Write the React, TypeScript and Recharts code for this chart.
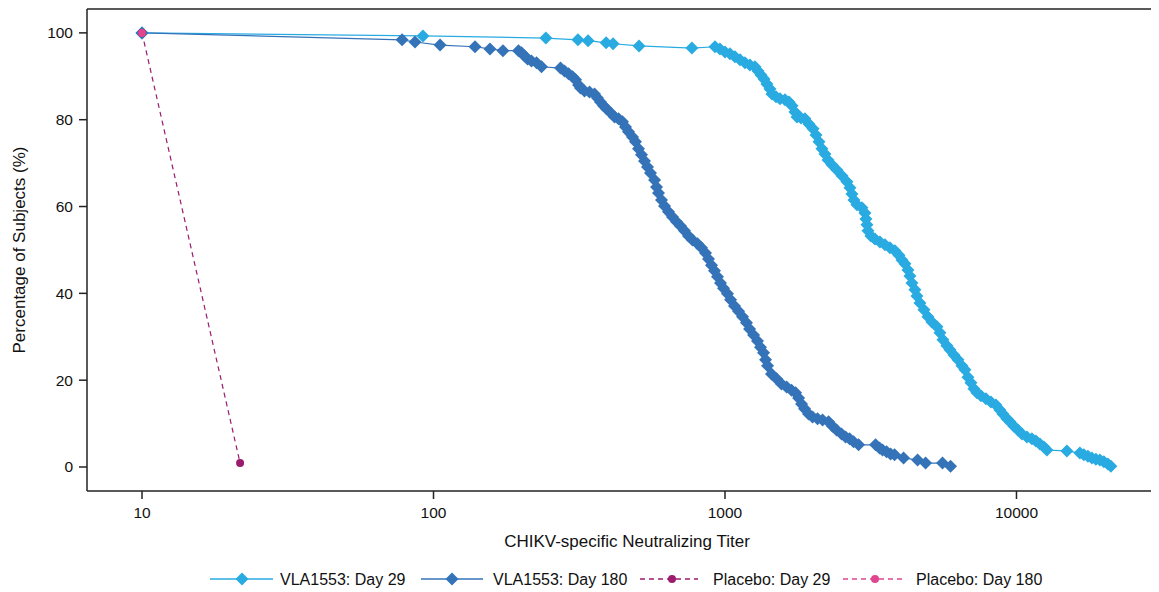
import React from 'react';
import { LineChart, Line, XAxis, YAxis, ReferenceLine } from 'recharts';

// VLA1553 Day 29: titer values and percentage of subjects
const day29Titer = [10, 92, 243, 313, 339, 391, 413, 507, 770,
  924, 961, 1000, 1040, 1082, 1126, 1171, 1218, 1267, 1298, 1329, 1361, 1393, 1427, 1449, 1496, 1544, 1606, 1658, 1698, 1738, 1766, 1823, 1881, 1941, 2004, 2052, 2101, 2151, 2203, 2256, 2328, 2422, 2519, 2621, 2684, 2726, 2770, 2836, 2950, 3021, 3045, 3069, 3094, 3168, 3270, 3401, 3538, 3681, 3829, 3952, 4047, 4144, 4243, 4311, 4379, 4484, 4556, 4665, 4814, 4969, 5129, 5335, 5463, 5594, 5773, 5912, 6102, 6297, 6499, 6655, 6815, 6978, 7146, 7317, 7552, 7856, 8172, 8502, 8774, 8985, 9273, 9495, 9800, 10115, 10439, 10860, 11297, 11660, 12034, 12421, 12718,
  14894, 16505, 17035, 17581, 18145, 18728, 19329, 19950, 20590, 21084];
const day29Pct = [100, 99.3, 98.8, 98.4, 98.2, 97.7, 97.5, 97.0, 96.5,
  96.8, 96.3, 95.6, 95.2, 94.5, 93.8, 93.1, 92.6, 92.2, 91.2, 90.3, 89.4, 88.2, 87.1, 85.9, 85.3, 84.8, 84.6, 84.1, 83.2, 81.8, 80.6, 80.4, 80.2, 79.0, 77.9, 76.5, 74.9, 73.3, 72.1, 70.7, 69.6, 68.4, 67.1, 65.7, 64.3, 62.9, 61.5, 60.4, 59.7, 58.5, 57.1, 55.8, 54.4, 53.2, 52.5, 51.8, 51.2, 50.5, 49.8, 48.8, 47.7, 46.8, 45.4, 44.0, 42.4, 40.8, 39.4, 37.8, 36.2, 34.6, 33.4, 32.3, 30.9, 29.3, 27.9, 27.0, 25.8, 24.7, 23.3, 22.4, 20.7, 19.4, 18.0, 17.1, 16.4, 15.7, 15.0, 14.3, 13.1, 12.2, 11.1, 10.4, 9.4, 8.5, 7.6, 6.9, 6.5, 6.0, 5.3, 4.6, 3.9,
  3.7, 3.2, 2.8, 2.5, 2.1, 1.8, 1.6, 1.2, 0.7, 0.2];

// VLA1553 Day 180
const day180Titer = [10, 78, 86.4, 105.3, 138.8, 156.2, 173.1,
  195.7, 200.4, 205.3, 210.2, 216.9, 225.7, 234.7,
  272.7, 281.5, 290.6, 299.9, 307.1, 314.5, 319.4, 329.7, 343.0, 356.8, 365.3, 374.1, 383.1, 392.3, 404.9, 417.9, 431.2, 445.1, 455.8, 466.7, 481.6, 493.2, 505.1, 517.2, 529.6, 542.3, 555.3, 573.2, 582.3, 591.5, 605.7, 620.2, 640.1, 660.7, 681.9, 703.8, 726.3, 749.7, 773.7, 804.9, 830.7, 857.4, 877.9, 899.0, 920.6, 942.7, 965.2, 988.3, 1020, 1045, 1078, 1113, 1149, 1185, 1214, 1253, 1293, 1324, 1356, 1378, 1400, 1444, 1503, 1563, 1627, 1692, 1746, 1789, 1831, 1875, 1935, 1997, 2078, 2162, 2266, 2339, 2414, 2512, 2592, 2675, 2761, 2872,
  3285, 3390, 3471, 3583, 3698, 3817, 4098, 4577, 4876, 5576, 5940];
const day180Pct = [100, 98.4, 97.9, 97.2, 96.8, 96.3, 95.9,
  95.9, 95.4, 94.7, 94.0, 93.5, 93.1, 92.2,
  91.9, 91.2, 90.6, 89.9, 89.2, 88.0, 87.3, 86.6, 86.4, 85.9, 85.0, 84.1, 83.2, 82.5, 81.6, 80.6, 80.2, 79.5, 78.3, 77.2, 76.0, 74.9, 73.3, 71.9, 70.5, 69.1, 67.7, 66.1, 64.5, 63.1, 61.5, 60.1, 58.8, 57.6, 56.5, 55.5, 54.4, 53.2, 52.3, 51.4, 50.5, 49.3, 47.9, 46.5, 45.2, 43.8, 42.4, 41.2, 39.9, 38.5, 37.1, 35.9, 34.6, 33.2, 31.8, 30.4, 29.0, 27.6, 26.3, 24.7, 23.3, 21.4, 20.3, 19.1, 18.4, 17.7, 17.1, 15.9, 14.5, 13.4, 12.2, 11.5, 11.1, 10.8, 10.4, 9.4, 8.5, 7.6, 6.9, 6.5, 5.8, 5.1,
  5.1, 4.4, 3.9, 3.5, 3.0, 2.8, 2.1, 1.6, 0.9, 0.9, 0.2];

// Placebo
const placebo29Titer = [10, 21.7];
const placebo29Pct = [100, 0.9];
const placebo180Titer = [10];
const placebo180Pct = [100];

const xTicks = [10, 100, 1000, 10000];
const yTicks = [0, 20, 40, 60, 80, 100];

const seriesNames = ['VLA1553: Day 29', 'VLA1553: Day 180', 'Placebo: Day 29', 'Placebo: Day 180'];
const colors = ['#29ABE2', '#3573B9', '#9B1B6E', '#E0458F'];

const zip = (xs: number[], ys: number[]) => xs.map((x, i) => ({ x, y: ys[i] }));
const d29 = zip(day29Titer, day29Pct);
const d180 = zip(day180Titer, day180Pct);
const p29 = zip(placebo29Titer, placebo29Pct);
const p180 = zip(placebo180Titer, placebo180Pct);

const FONT = '"Liberation Sans", Arial, Helvetica, sans-serif';
const AXIS = '#222';

const makeDiamond = (color: string) => (props: any) => {
  const { cx, cy, index } = props;
  if (cx == null || cy == null) return <g key={`e-${index}`} />;
  const h = 6.5;
  return (
    <path
      key={`dm-${color}-${index}`}
      d={`M${cx},${cy - h}L${cx + h},${cy}L${cx},${cy + h}L${cx - h},${cy}Z`}
      fill={color}
      stroke="none"
    />
  );
};

const makeCircle = (color: string) => (props: any) => {
  const { cx, cy, index } = props;
  if (cx == null || cy == null) return <g key={`e-${index}`} />;
  return <circle key={`c-${color}-${index}`} cx={cx} cy={cy} r={4} fill={color} stroke="none" />;
};

const legendItems = [
  { x0: 202, x1: 265, mx: 234, tx: 272, kind: 'diamond', dash: false },
  { x0: 413, x1: 475, mx: 444, tx: 485, kind: 'diamond', dash: false },
  { x0: 632, x1: 690, mx: 664, tx: 705, kind: 'circle', dash: true },
  { x0: 835, x1: 894, mx: 867, tx: 908, kind: 'circle', dash: true },
];

export default function App() {
  return (
    <div style={{ position: 'relative', width: 1151, height: 584, fontFamily: FONT }}>
      <LineChart width={1151} height={584} margin={{ top: 1, right: 0, bottom: 0, left: 0 }}>
        <XAxis
          dataKey="x"
          type="number"
          scale="log"
          domain={[6.475, 30830]}
          ticks={xTicks}
          allowDataOverflow
          height={101}
          tickSize={8}
          tickMargin={8}
          stroke={AXIS}
          strokeWidth={1.5}
          tick={{ fontSize: 15.5, fill: '#111', fontFamily: FONT }}
          tickLine={{ stroke: AXIS, strokeWidth: 1.5 }}
        />
        <YAxis
          dataKey="y"
          type="number"
          domain={[-5.53, 105.5]}
          ticks={yTicks}
          allowDataOverflow
          width={79}
          tickSize={8}
          tickMargin={6}
          stroke={AXIS}
          strokeWidth={1.5}
          tick={{ fontSize: 15.5, fill: '#111', fontFamily: FONT }}
          tickLine={{ stroke: AXIS, strokeWidth: 1.5 }}
        />
        <ReferenceLine y={105.5} stroke={AXIS} strokeWidth={1.5} ifOverflow="extendDomain" />
        <Line data={d29} dataKey="y" name={seriesNames[0]} stroke={colors[0]} strokeWidth={1.2} dot={makeDiamond(colors[0])} isAnimationActive={false} />
        <Line data={d180} dataKey="y" name={seriesNames[1]} stroke={colors[1]} strokeWidth={1.2} dot={makeDiamond(colors[1])} isAnimationActive={false} />
        <Line data={p29} dataKey="y" name={seriesNames[2]} stroke={colors[2]} strokeWidth={1.2} strokeDasharray="5 4" dot={makeCircle(colors[2])} isAnimationActive={false} />
        <Line data={p180} dataKey="y" name={seriesNames[3]} stroke={colors[3]} strokeWidth={1.2} strokeDasharray="5 4" dot={makeCircle(colors[3])} isAnimationActive={false} />
      </LineChart>
      <svg width={1151} height={584} style={{ position: 'absolute', left: 0, top: 0, pointerEvents: 'none' }}>
        <text x={11} y={242} transform="rotate(-90 11 242)" textAnchor="middle" dominantBaseline="central" fontSize={17} fill="#111" fontFamily={FONT}>
          Percentage of Subjects (%)
        </text>
        <text x={619} y={533} textAnchor="middle" dominantBaseline="central" fontSize={17} fill="#111" fontFamily={FONT}>
          CHIKV-specific Neutralizing Titer
        </text>
        {legendItems.map((it, i) => (
          <g key={i}>
            <line x1={it.x0} x2={it.x1} y1={571} y2={571} stroke={colors[i]} strokeWidth={1.5} strokeDasharray={it.dash ? '5 4' : undefined} />
            {it.kind === 'diamond' ? (
              <path d={`M${it.mx},${571 - 6.5}L${it.mx + 6.5},571L${it.mx},${571 + 6.5}L${it.mx - 6.5},571Z`} fill={colors[i]} />
            ) : (
              <circle cx={it.mx} cy={571} r={4} fill={colors[i]} />
            )}
            <text x={it.tx} y={571} dominantBaseline="central" fontSize={16} fill="#111" fontFamily={FONT}>
              {seriesNames[i]}
            </text>
          </g>
        ))}
      </svg>
    </div>
  );
}
